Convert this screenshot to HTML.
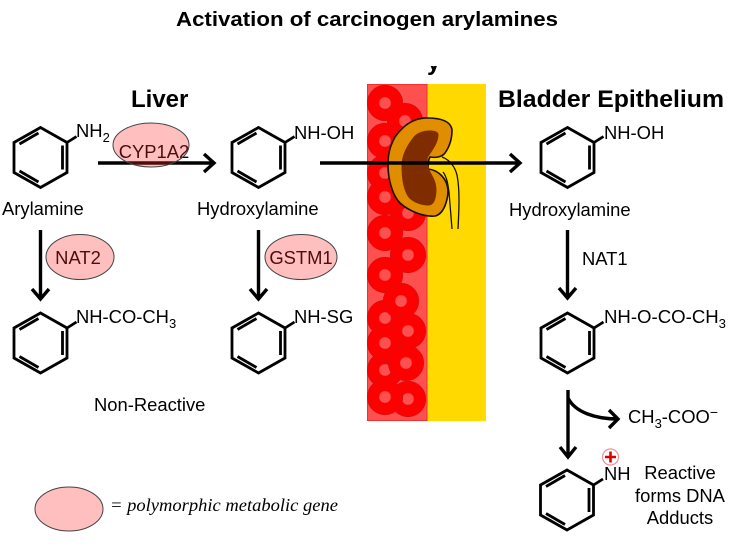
<!DOCTYPE html>
<html>
<head>
<meta charset="utf-8">
<style>
html,body{margin:0;padding:0;background:#fff;}
svg{display:block;}
text{font-family:"Liberation Sans",Arial,sans-serif;font-size:18.4px;fill:#000;}
.b{font-weight:bold;}
.ring{fill:none;stroke:#000;stroke-width:2.8;}
.arr{fill:none;stroke:#000;stroke-width:3.4;}
.enz{fill:#ff2a2a;fill-opacity:.3;stroke:#444;stroke-width:1;}
</style>
</head>
<body>
<svg width="734" height="546" viewBox="0 0 734 546" xmlns="http://www.w3.org/2000/svg">
<defs>
<g id="benz" class="ring">
<polygon points="0,-30 26.5,-15 26.5,15 0,30 -26.5,15 -26.5,-15"/>
<path d="M-21,-13.5L-2,-24.5M22,-12V12M-21,13.5L-2,24.5M26.5,-15L36,-21"/>
</g>
<g id="cell">
<circle r="17.7" fill="#ff0000" stroke="#d81010" stroke-width=".8"/>
<circle r="6" fill="#ff5050" stroke="#e82020" stroke-width=".5"/>
</g>
<clipPath id="rc"><rect x="367" y="84" width="60" height="337"/></clipPath>
<clipPath id="yc"><rect x="420" y="66" width="30" height="18"/></clipPath>
</defs>

<text x="176" y="26" class="b" style="font-size:20px" textLength="382" lengthAdjust="spacingAndGlyphs">Activation of carcinogen arylamines</text>
<text x="427" y="70" class="b" style="font-size:24px" clip-path="url(#yc)">y</text>
<text x="131" y="107" class="b" style="font-size:24px">Liver</text>
<text x="498" y="107" class="b" style="font-size:24px" textLength="226" lengthAdjust="spacingAndGlyphs">Bladder Epithelium</text>

<!-- tissue -->
<rect x="427" y="84" width="59" height="337" fill="#ffd900"/>
<rect x="367.5" y="84.5" width="59.5" height="336" fill="#ff5050" stroke="#f33030"/>
<g clip-path="url(#rc)">
<use href="#cell" x="385" y="103"/>
<use href="#cell" x="405" y="121"/>
<use href="#cell" x="385" y="141"/>
<use href="#cell" x="385" y="173"/>
<use href="#cell" x="408" y="213"/>
<use href="#cell" x="385" y="197"/>
<use href="#cell" x="408" y="255"/>
<use href="#cell" x="385" y="233"/>
<use href="#cell" x="385" y="275"/>
<use href="#cell" x="385" y="318"/>
<use href="#cell" x="401" y="301"/>
<use href="#cell" x="408" y="399"/>
<use href="#cell" x="385" y="370"/>
<use href="#cell" x="408" y="331"/>
<use href="#cell" x="385" y="343"/>
<use href="#cell" x="406" y="363"/>
<use href="#cell" x="385" y="397"/>
</g>

<!-- kidney -->
<path d="M430 157C436 158 442 157 445 153C450 146 452 138 452 130C451 122 442 118 427 118C412 118 402 127 395 137C389 148 388 156 388 165C388 178 392 195 400 203C410 212 425 217 435 216C444 214 448 200 448 190C447 178 438 170 428 169C428 165 428 160 430 157Z" fill="#e08e00" stroke="#1a1000" stroke-width="1.6"/>
<path d="M428 157C433 150 438.5 142 438.5 135C438.5 131 433 130.5 430 130.5C422 130.5 416 133 412 139C406 147 402 155 401.5 165C401.5 178 403 190 409 198C414 203 422 205.5 428 205.5C434 205.5 436 200 436.5 190C436.5 182 433 177 431 173C428 168 427 162 428 157Z" fill="#7f2c00"/>
<path d="M442 157C450 160 455 167 457 175C460 190 459 210 458 229M443 172C447 177 448 185 449 192C450 205 451 218 452 229" fill="none" stroke="#1a1000" stroke-width="1.3"/>

<!-- rings -->
<use href="#benz" x="40.5" y="157.5"/>
<use href="#benz" x="258.5" y="157.5"/>
<use href="#benz" x="567.5" y="157.5"/>
<use href="#benz" x="40.5" y="343"/>
<use href="#benz" x="258.5" y="343"/>
<use href="#benz" x="567.5" y="343"/>
<use href="#benz" x="567" y="500"/>

<!-- labels -->
<text x="76" y="137">NH<tspan dy="5" style="font-size:13px">2</tspan></text>
<text x="294" y="139">NH-OH</text>
<text x="604" y="139">NH-OH</text>
<text x="2" y="215">Arylamine</text>
<text x="197" y="215">Hydroxylamine</text>
<text x="509" y="216">Hydroxylamine</text>
<text x="76" y="323">NH-CO-CH<tspan dy="5" style="font-size:13px">3</tspan></text>
<text x="294" y="323">NH-SG</text>
<text x="604" y="323" textLength="122" lengthAdjust="spacingAndGlyphs">NH-O-CO-CH<tspan dy="5" style="font-size:13px">3</tspan></text>
<text x="94" y="411">Non-Reactive</text>
<text x="582" y="265">NAT1</text>
<text x="628" y="423">CH<tspan dy="5" style="font-size:13px">3</tspan><tspan dy="-5">-COO</tspan><tspan dy="-6" style="font-size:14px">−</tspan></text>
<text x="604" y="480">NH</text>
<text x="680" y="479" text-anchor="middle">Reactive</text>
<text x="680" y="502" text-anchor="middle">forms DNA</text>
<text x="680" y="524" text-anchor="middle">Adducts</text>
<text x="110" y="511" style="font-family:'Liberation Serif',serif;font-style:italic;font-size:18px" textLength="228" lengthAdjust="spacingAndGlyphs">= polymorphic metabolic gene</text>

<!-- enzyme text -->
<text x="154" y="158" text-anchor="middle">CYP1A2</text>
<text x="78" y="264" text-anchor="middle">NAT2</text>
<text x="301" y="264" text-anchor="middle">GSTM1</text>

<!-- arrows -->
<path class="arr" d="M98 163H214M204 154L214 163L204 172"/>
<path class="arr" d="M320 163H520M510 154L520 163L510 172"/>
<path class="arr" d="M40.5 230V299M32 289L40.5 299L49 289"/>
<path class="arr" d="M258.5 230V299M250 289L258.5 299L267 289"/>
<path class="arr" d="M567.5 230V298M559 288L567.5 298L576 288"/>
<path class="arr" d="M568 390V457M560 447L568 457L576 447"/>
<path class="arr" d="M568 398C575 412 595 419 618 419M609 410L618 419L609 428"/>

<!-- enzyme ellipses over text and lines -->
<ellipse class="enz" cx="151" cy="145" rx="38" ry="22"/>
<ellipse class="enz" cx="80" cy="257" rx="34" ry="22.5"/>
<ellipse class="enz" cx="301" cy="257" rx="36" ry="22.5"/>
<ellipse class="enz" cx="69" cy="509" rx="34" ry="22"/>

<!-- charge -->
<circle cx="610.5" cy="457" r="8" fill="#fff" stroke="#f09090" stroke-width="1.2"/>
<path d="M605 457H616M610.5 451.5V462.5" stroke="#e00000" stroke-width="2.6" fill="none"/>
</svg>
</body>
</html>
